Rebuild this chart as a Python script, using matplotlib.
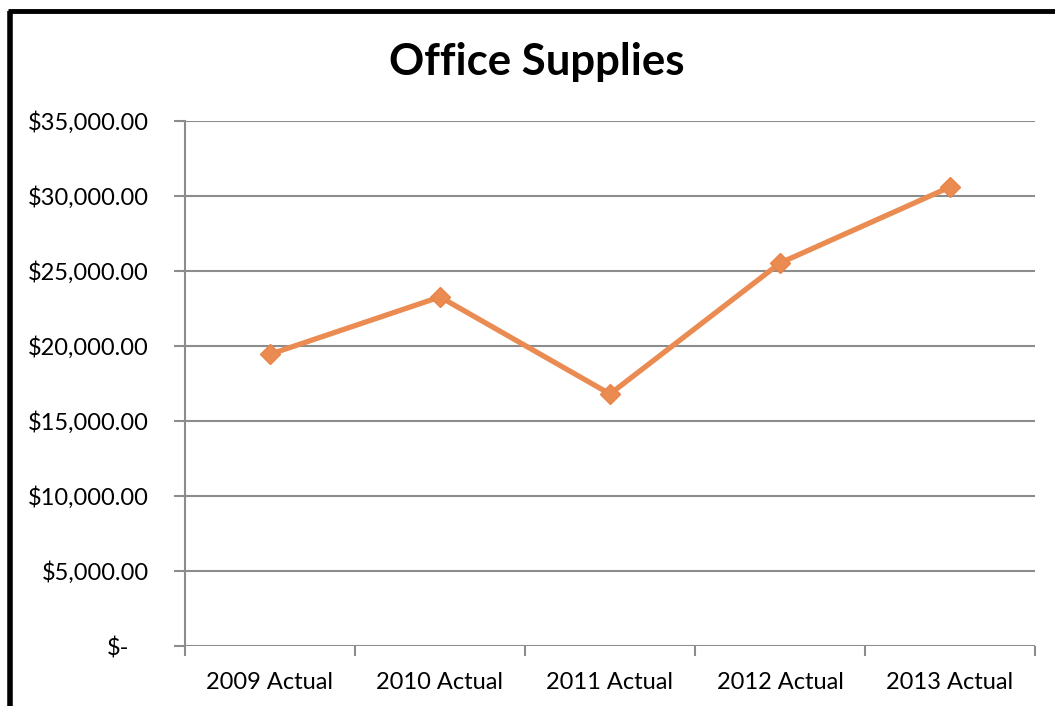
import matplotlib.pyplot as plt
from matplotlib.lines import Line2D
from matplotlib.ticker import FuncFormatter, FixedLocator

categories = ["2009 Actual", "2010 Actual", "2011 Actual", "2012 Actual", "2013 Actual"]
spend = [19450, 23270, 16800, 25530, 30600]
y_ticks = [0, 5000, 10000, 15000, 20000, 25000, 30000, 35000]

plt.rcParams['font.family'] = ['Lato', 'DejaVu Sans']

W, H = 1055, 706
fig = plt.figure(figsize=(W / 100, H / 100), dpi=100)
ax = fig.add_axes([185 / W, 1 - 646 / H, (1035 - 185) / W, (646 - 121) / H])

grid_col = '#8c8c8c'
x = list(range(len(categories)))
ax.plot(x, spend, color='#EA8B52', lw=3.8, marker='D', ms=10,
        markerfacecolor='#EA8B52', markeredgecolor='#E98349', zorder=3,
        solid_joinstyle='miter')

ax.set_xlim(-0.5, len(categories) - 0.5)
ax.set_ylim(0, 35000)
ax.yaxis.set_major_locator(FixedLocator(y_ticks))
# accounting style: zero shows as a dash, padded on the right
ax.yaxis.set_major_formatter(FuncFormatter(
    lambda v, p: '$-' if v == 0 else f'${v:,.2f}'))
ax.set_xticks(x)
ax.set_xticklabels(categories)
ax.xaxis.set_minor_locator(FixedLocator([i - 0.5 for i in range(len(categories) + 1)]))
ax.tick_params(axis='x', which='major', length=0, pad=19, labelsize=17)
ax.tick_params(axis='x', which='minor', length=7, color=grid_col, width=1.5)
ax.tick_params(axis='y', length=8, color=grid_col, width=1.5, pad=18, labelsize=17)
fig.canvas.draw()
zero_lbl = ax.get_yticklabels()[0]
zero_lbl.set_ha('left')
zero_lbl.set_x(-78 / 850)
zero_lbl.set_transform(ax.get_yaxis_transform())

for v in y_ticks:
    ax.axhline(v, color=grid_col, lw=1.5, zorder=1)
for s in ['top', 'right', 'bottom']:
    ax.spines[s].set_visible(False)
ax.spines['left'].set_color(grid_col)
ax.spines['left'].set_linewidth(1.5)

fig.text(537 / W, 1 - 62 / H, "Office Supplies", ha='center', va='center',
         fontsize=31.5, fontweight='bold')

# printed frame round the chart
fig.add_artist(Line2D([10 / W, 10 / W], [0, 1 - 11 / H], color='black', lw=4,
                      transform=fig.transFigure, solid_capstyle='butt'))
fig.add_artist(Line2D([8 / W, 1], [1 - 11 / H, 1 - 11 / H], color='black', lw=3.5,
                      transform=fig.transFigure, solid_capstyle='butt'))

fig.savefig('out.png', dpi=100)
